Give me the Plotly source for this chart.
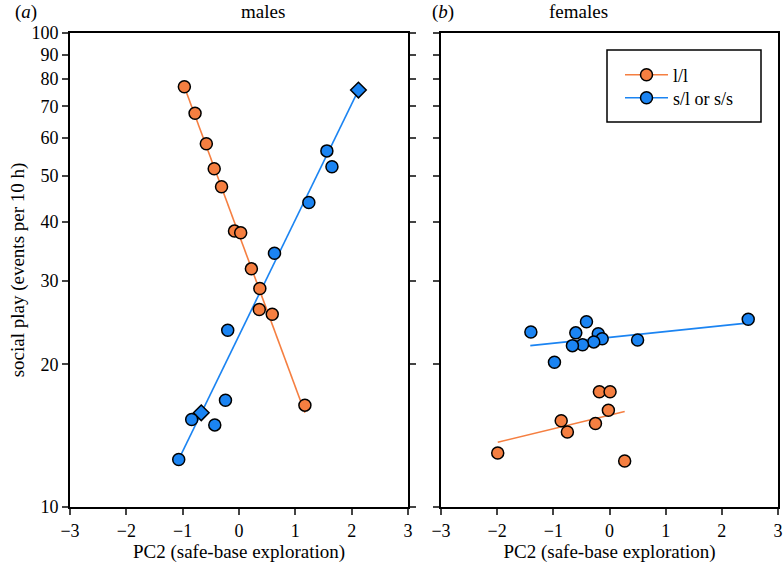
import plotly.graph_objects as go

# males (panel a)
male_ll_x = [-0.97, -0.78, -0.58, -0.44, -0.31, -0.08, 0.03, 0.22, 0.37, 0.36, 0.59, 1.17]
male_ll_y = [77.0, 67.7, 58.4, 51.7, 47.4, 38.2, 37.9, 31.8, 28.9, 26.1, 25.5, 16.4]
male_s_x = [2.12, 1.56, 1.65, 1.24, 0.63, -0.20, -0.24, -0.67, -0.84, -0.43, -1.07]
male_s_y = [75.8, 56.4, 52.2, 43.9, 34.3, 23.6, 16.8, 15.8, 15.3, 14.9, 12.6]
male_s_symbol = ["diamond", "circle", "circle", "circle", "circle", "circle",
                 "circle", "diamond", "circle", "circle", "circle"]
male_ll_fit_x = [-0.97, 1.17]
male_ll_fit_y = [77.0, 15.8]
male_s_fit_x = [-1.07, 2.12]
male_s_fit_y = [12.6, 75.8]

# females (panel b)
fem_ll_x = [-1.99, -0.86, -0.75, -0.25, -0.18, 0.01, -0.02, 0.27]
fem_ll_y = [13.0, 15.2, 14.4, 15.0, 17.5, 17.5, 16.0, 12.5]
fem_s_x = [-1.40, -0.41, -0.60, -0.20, -0.13, -0.28, -0.48, -0.66, 0.50, -0.98, 2.47]
fem_s_y = [23.4, 24.6, 23.3, 23.2, 22.65, 22.3, 22.0, 21.9, 22.5, 20.2, 24.9]
fem_ll_fit_x = [-1.99, 0.27]
fem_ll_fit_y = [13.7, 15.9]
fem_s_fit_x = [-1.41, 2.40]
fem_s_fit_y = [21.9, 24.4]

x_ticks = [-3, -2, -1, 0, 1, 2, 3]
y_ticks = [10, 20, 30, 40, 50, 60, 70, 80, 90, 100]

ORANGE = "#F57F41"
BLUE = "#1B84F2"
FONT = "Liberation Serif"
FS = 18

# plot area in pixels: left 70, right 778, top 33, bottom 507
def px(x):
    return (x - 70) / 708

def py(y):
    return (507 - y) / 474

fig = go.Figure()

def add_panel(xa, ya, ll_x, ll_y, s_x, s_y, ll_fx, ll_fy, s_fx, s_fy, s_sym="circle"):
    fig.add_trace(go.Scatter(x=ll_fx, y=ll_fy, mode="lines", line=dict(color=ORANGE, width=1.6),
                             xaxis=xa, yaxis=ya, showlegend=False, hoverinfo="skip"))
    fig.add_trace(go.Scatter(x=s_fx, y=s_fy, mode="lines", line=dict(color=BLUE, width=1.6),
                             xaxis=xa, yaxis=ya, showlegend=False, hoverinfo="skip"))
    fig.add_trace(go.Scatter(x=ll_x, y=ll_y, mode="markers", xaxis=xa, yaxis=ya, showlegend=False,
                             marker=dict(color=ORANGE, size=12, line=dict(color="black", width=1.5))))
    fig.add_trace(go.Scatter(x=s_x, y=s_y, mode="markers", xaxis=xa, yaxis=ya, showlegend=False,
                             marker=dict(color=BLUE, size=12, symbol=s_sym,
                                         line=dict(color="black", width=1.5))))

add_panel("x", "y", male_ll_x, male_ll_y, male_s_x, male_s_y,
          male_ll_fit_x, male_ll_fit_y, male_s_fit_x, male_s_fit_y, male_s_symbol)
add_panel("x2", "y2", fem_ll_x, fem_ll_y, fem_s_x, fem_s_y,
          fem_ll_fit_x, fem_ll_fit_y, fem_s_fit_x, fem_s_fit_y)

# legend entries (one per legend so each row can be placed)
fig.add_trace(go.Scatter(x=[None], y=[None], mode="lines+markers", name="l/l", xaxis="x2", yaxis="y2",
                         legend="legend", line=dict(color=ORANGE, width=1.6),
                         marker=dict(color=ORANGE, size=12, line=dict(color="black", width=1.5))))
fig.add_trace(go.Scatter(x=[None], y=[None], mode="lines+markers", name="s/l or s/s", xaxis="x2", yaxis="y2",
                         legend="legend2", line=dict(color=BLUE, width=1.6),
                         marker=dict(color=BLUE, size=12, line=dict(color="black", width=1.5))))

tfont = dict(family=FONT, size=FS, color="black")
title_font = dict(family=FONT, size=19, color="black")
xaxis_common = dict(range=[-3, 3], tickvals=x_ticks, ticks="outside", ticklen=6, tickwidth=1.5,
                    showline=True, linecolor="black", linewidth=1.8, mirror=True, showgrid=False,
                    zeroline=False, automargin=False, tickfont=tfont,
                    title=dict(text="PC2 (safe-base exploration)", font=title_font, standoff=5))
yaxis_common = dict(type="log", range=[1, 2], tickvals=y_ticks, ticks="outside", ticklen=6, tickwidth=1.5,
                    showline=True, linecolor="black", linewidth=1.8, showgrid=False, zeroline=False,
                    automargin=False, tickfont=tfont)

legend_common = dict(xanchor="left", yanchor="middle", bgcolor="rgba(0,0,0,0)",
                     borderwidth=0, font=tfont, itemwidth=43)

fig.update_layout(
    width=783, height=564,
    margin=dict(l=70, r=5, t=33, b=57),
    paper_bgcolor="white", plot_bgcolor="white",
    font=tfont,
    xaxis=dict(domain=[0, px(408)], anchor="y", **xaxis_common),
    xaxis2=dict(domain=[px(441), 1], anchor="y2", **xaxis_common),
    yaxis=dict(domain=[0, 1], anchor="x", mirror="ticks",
               title=dict(text="social play (events per 10 h)", font=title_font, standoff=2),
               **yaxis_common),
    yaxis2=dict(domain=[0, 1], anchor="x2", mirror=True, showticklabels=False, **yaxis_common),
    legend=dict(x=px(620), y=py(75), **legend_common),
    legend2=dict(x=px(620), y=py(98), **legend_common),
    showlegend=True,
)

# legend frame
fig.add_shape(type="rect", xref="paper", yref="paper", x0=px(607), x1=px(761), y0=py(122), y1=py(50),
              line=dict(color="black", width=1.5), fillcolor="rgba(0,0,0,0)", layer="above")

fig.add_annotation(text="males", x=px(239), y=py(12), xref="paper", yref="paper",
                   yanchor="middle", showarrow=False, font=title_font)
fig.add_annotation(text="females", x=px(610), y=py(12), xref="paper", yref="paper",
                   yanchor="middle", showarrow=False, font=title_font)
fig.add_annotation(text="(<i>a</i>)", x=px(13), y=py(12), xref="paper", yref="paper",
                   yanchor="middle", showarrow=False, font=title_font)
fig.add_annotation(text="(<i>b</i>)", x=px(443), y=py(12), xref="paper", yref="paper",
                   yanchor="middle", showarrow=False, font=title_font)

fig.write_html("out.html", config={"displayModeBar": False},
               post_script="document.body.style.margin='0';")
